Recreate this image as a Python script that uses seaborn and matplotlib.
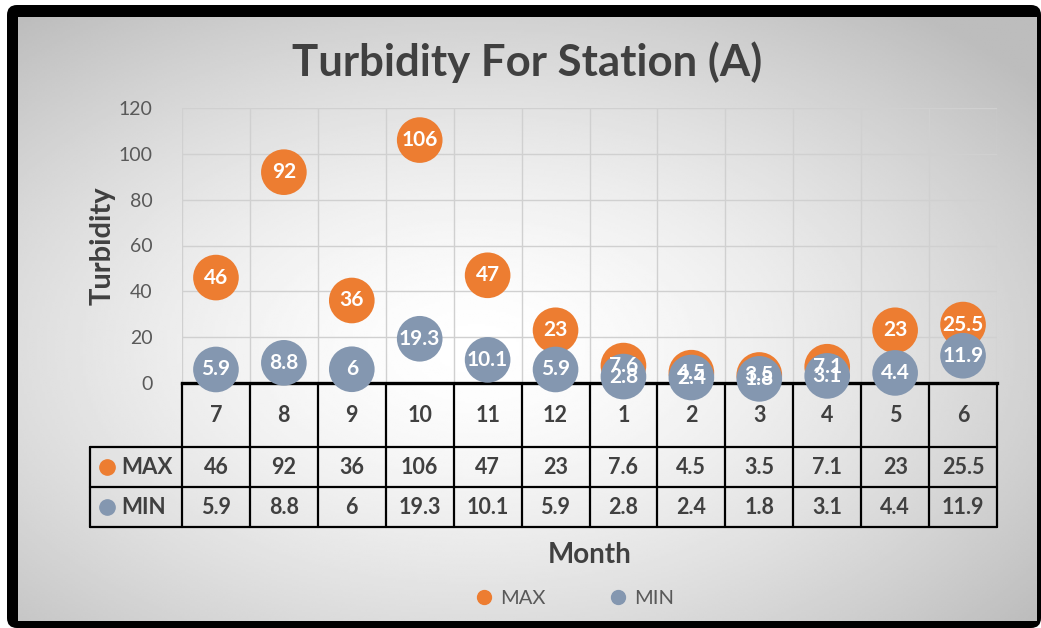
import numpy as np
import pandas as pd
import matplotlib
matplotlib.use("Agg")
import matplotlib.pyplot as plt
import matplotlib.transforms as mtransforms
from matplotlib.patches import FancyBboxPatch
from matplotlib.lines import Line2D
import seaborn as sns

# Data
months = ['7', '8', '9', '10', '11', '12', '1', '2', '3', '4', '5', '6']
max_vals = [46, 92, 36, 106, 47, 23, 7.6, 4.5, 3.5, 7.1, 23, 25.5]
min_vals = [5.9, 8.8, 6, 19.3, 10.1, 5.9, 2.8, 2.4, 1.8, 3.1, 4.4, 11.9]
series = ['MAX', 'MIN']
colors = {'MAX': '#ED7D31', 'MIN': '#8497B0'}

df = pd.DataFrame({
    'Month': months * 2,
    'pos': list(range(len(months))) * 2,
    'Turbidity': max_vals + min_vals,
    'Series': ['MAX'] * len(months) + ['MIN'] * len(months),
})

sns.set_theme(style='white')
plt.rcParams['font.family'] = ['Lato', 'DejaVu Sans']

W, H = 1041, 628
fig = plt.figure(figsize=(W / 100, H / 100), dpi=100)
fig.patch.set_facecolor('white')

# background: black frame + radial grey gradient
bg = fig.add_axes([0, 0, 1, 1], zorder=0)
bg.add_patch(FancyBboxPatch((7, 5), W - 7, H - 5,
                            boxstyle='round,pad=0,rounding_size=10',
                            fc='black', ec='none', zorder=0))
gx, gy = np.meshgrid(np.linspace(-1, 1, 400), np.linspace(-1, 1, 300))
r = np.sqrt((gx + 0.1) ** 2 + (gy - 0.1) ** 2) / np.sqrt(2)
grad = 1 - 0.26 * np.clip(r, 0, 1) ** 1.5
bg.imshow(grad, cmap='gray', vmin=0, vmax=1, extent=(18, 1037, 621, 17),
          aspect='auto', interpolation='bilinear', zorder=0.5)
bg.set_xlim(0, W)
bg.set_ylim(H, 0)
bg.axis('off')

# main plot area
ax = fig.add_axes([182 / W, 1 - 383 / H, (997 - 182) / W, (383 - 108) / H], zorder=2)
ax.patch.set_alpha(0)

sns.scatterplot(data=df, x='pos', y='Turbidity', hue='Series', hue_order=series,
                palette=colors, s=1080, edgecolor='none', linewidth=0,
                ax=ax, legend=False, clip_on=False, zorder=3)

for vals in [max_vals, min_vals]:
    for i, v in enumerate(vals):
        ax.text(i, v, f'{v:g}', ha='center', va='center', color='white',
                fontsize=15, fontweight='bold', zorder=5, clip_on=False)

ax.set_xlim(-0.5, len(months) - 0.5)
ax.set_ylim(0, 120)
ax.set_yticks(range(0, 121, 20))
ax.set_xticks([])
ax.set_xticks(np.arange(-0.5, len(months), 1), minor=True)
ax.grid(axis='y', which='major', color='#d0d0d0', lw=1)
ax.grid(axis='x', which='minor', color='#d0d0d0', lw=1)
ax.tick_params(axis='both', which='both', length=0)
ax.tick_params(axis='y', pad=21, labelsize=14, labelcolor='#595959')
for s in ['left', 'right', 'top']:
    ax.spines[s].set_visible(False)
ax.spines['bottom'].set_color('black')
ax.spines['bottom'].set_linewidth(2.4)
ax.spines['bottom'].set_zorder(2)
ax.set_xlabel('')
ax.set_ylabel('Turbidity', fontsize=21, fontweight='bold', color='#404040')
ax.yaxis.set_label_coords(-0.082, 0.5)

# data table under the axis
trans = mtransforms.blended_transform_factory(ax.transData, bg.transData)
for b in np.arange(-0.5, len(months), 1):
    bg.add_line(Line2D([b, b], [383, 527], color='black', lw=1.6, transform=trans, zorder=2))
for yy in [447, 487, 527]:
    bg.add_line(Line2D([90, 997], [yy, yy], color='black', lw=1.6, zorder=2))
bg.add_line(Line2D([90, 90], [447, 527], color='black', lw=1.6, zorder=2))

cell_font = dict(ha='center', va='center', fontsize=15.5, fontweight='bold', color='#404040')
for i, m in enumerate(months):
    bg.text(i, 415, m, transform=trans, **cell_font)
    bg.text(i, 467, f'{max_vals[i]:g}', transform=trans, **cell_font)
    bg.text(i, 507, f'{min_vals[i]:g}', transform=trans, **cell_font)

for name, yy in zip(series, [467, 507]):
    bg.plot([107], [yy], 'o', color=colors[name], ms=11, zorder=3)
    bg.text(121, yy, name, ha='left', va='center', fontsize=16,
            fontweight='bold', color='#404040')

# titles
fig.text(527 / W, 1 - 62 / H, 'Turbidity For Station (A)', ha='center', va='center',
         fontsize=31.5, fontweight='bold', color='#404040')
fig.text(590 / W, 1 - 555 / H, 'Month', ha='center', va='center',
         fontsize=20, fontweight='bold', color='#404040')

handles = [Line2D([], [], marker='o', ls='none', color=colors[n], ms=10) for n in series]
fig.legend(handles, series, loc='center', bbox_to_anchor=(575 / W, 1 - 598 / H),
           ncol=2, frameon=False, fontsize=14.5, labelcolor='#595959',
           handlelength=0.8, handletextpad=0.4, columnspacing=3.2)

fig.savefig('out.png', dpi=100)
